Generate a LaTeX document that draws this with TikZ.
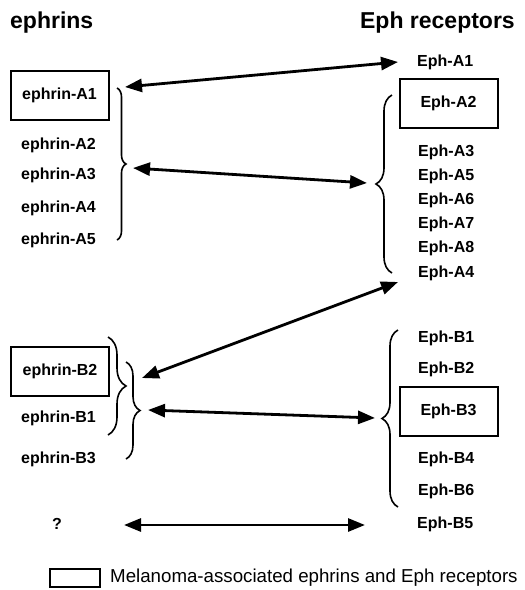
\documentclass[tikz,border=0pt]{standalone}
\usepackage{fontspec}
\setmainfont{Liberation Sans}
\usetikzlibrary{arrows.meta,decorations.pathreplacing}

\begin{document}
\begin{tikzpicture}[x=1pt,y=-1pt,
  lbl/.style={font=\fontsize{16}{18}\selectfont\bfseries, inner sep=0pt},
  ttl/.style={font=\fontsize{23}{26}\selectfont\bfseries, inner sep=0pt},
  markbox/.style={draw, line width=2pt, minimum width=98pt, minimum height=49pt,
    inner sep=0pt, font=\fontsize{16}{18}\selectfont\bfseries},
  link/.style={line width=2.8pt,
    {Triangle[length=17pt,width=13pt]}-{Triangle[length=17pt,width=13pt]}},
  curly/.style={decorate, decoration={brace, amplitude=#1}, line width=1.6pt}
]
\useasboundingbox (0,0) rectangle (525,590);

% column headings
\node[ttl, anchor=west] (hl) at (10,23) {ephrins};
\node[ttl, anchor=east] (hr) at (515,23) {Eph receptors};

% ephrin-A ligands
\node[markbox] (eA1) at (59.5,95) {ephrin-A1};
\node[lbl, anchor=west] (eA2) at (21,145) {ephrin-A2};
\node[lbl, anchor=west] (eA3) at (21,175) {ephrin-A3};
\node[lbl, anchor=west] (eA4) at (21,208) {ephrin-A4};
\node[lbl, anchor=west] (eA5) at (21,240) {ephrin-A5};

% EphA receptors
\node[lbl, anchor=west] (rA1) at (417,62) {Eph-A1};
\node[markbox] (rA2) at (448.5,103.5) {Eph-A2};
\node[lbl, anchor=west] (rA3) at (418,152) {Eph-A3};
\node[lbl, anchor=west] (rA5) at (418,176) {Eph-A5};
\node[lbl, anchor=west] (rA6) at (418,200) {Eph-A6};
\node[lbl, anchor=west] (rA7) at (418,224) {Eph-A7};
\node[lbl, anchor=west] (rA8) at (418,248) {Eph-A8};
\node[lbl, anchor=west] (rA4) at (418,273) {Eph-A4};

% ephrin-B ligands
\node[markbox] (eB2) at (60,371) {ephrin-B2};
\node[lbl, anchor=west] (eB1) at (21,418) {ephrin-B1};
\node[lbl, anchor=west] (eB3) at (21,459) {ephrin-B3};

% EphB receptors
\node[lbl, anchor=west] (rB1) at (418,338) {Eph-B1};
\node[lbl, anchor=west] (rB2) at (418,369) {Eph-B2};
\node[markbox] (rB3) at (448.5,411) {Eph-B3};
\node[lbl, anchor=west] (rB4) at (418,459) {Eph-B4};
\node[lbl, anchor=west] (rB6) at (418,491) {Eph-B6};
\node[lbl, anchor=west] (rB5) at (417,524) {Eph-B5};

% unknown ligand
\node[lbl] (unk) at (57,524) {?};

% braces grouping the families
\draw[curly=9] (117,88) -- (117,240);
\draw[curly=16] (392,273) -- (392,95);
\draw[curly=18] (108,337) -- (108,435);
\draw[curly=14] (126,362) -- (126,459);
\draw[curly=16] (398,507) -- (398,330);

% arrow end points at the braces
\coordinate (a1l) at (125,87);
\coordinate (a1r) at (398,62);
\coordinate (a2l) at (133,168);
\coordinate (a2r) at (367,183);
\coordinate (a3l) at (142,378);
\coordinate (a3r) at (398,282);
\coordinate (a4l) at (148,410);
\coordinate (a4r) at (375,418);
\coordinate (a5l) at (124,525);
\coordinate (a5r) at (365,525);

% ligand-receptor binding
\draw[link] (a1l) -- (a1r);
\draw[link] (a2l) -- (a2r);
\draw[link] (a3l) -- (a3r);
\draw[link] (a4l) -- (a4r);
\draw[link] (a5l) -- (a5r);

% legend
\node[draw, line width=1.5pt, minimum width=50pt, minimum height=18pt, inner sep=0pt]
  (key) at (75,578) {};
\node[anchor=west, inner sep=0pt, font=\fontsize{18.7}{21}\selectfont] (keytext)
  at (110,578) {Melanoma-associated ephrins and Eph receptors};
\end{tikzpicture}
\end{document}
